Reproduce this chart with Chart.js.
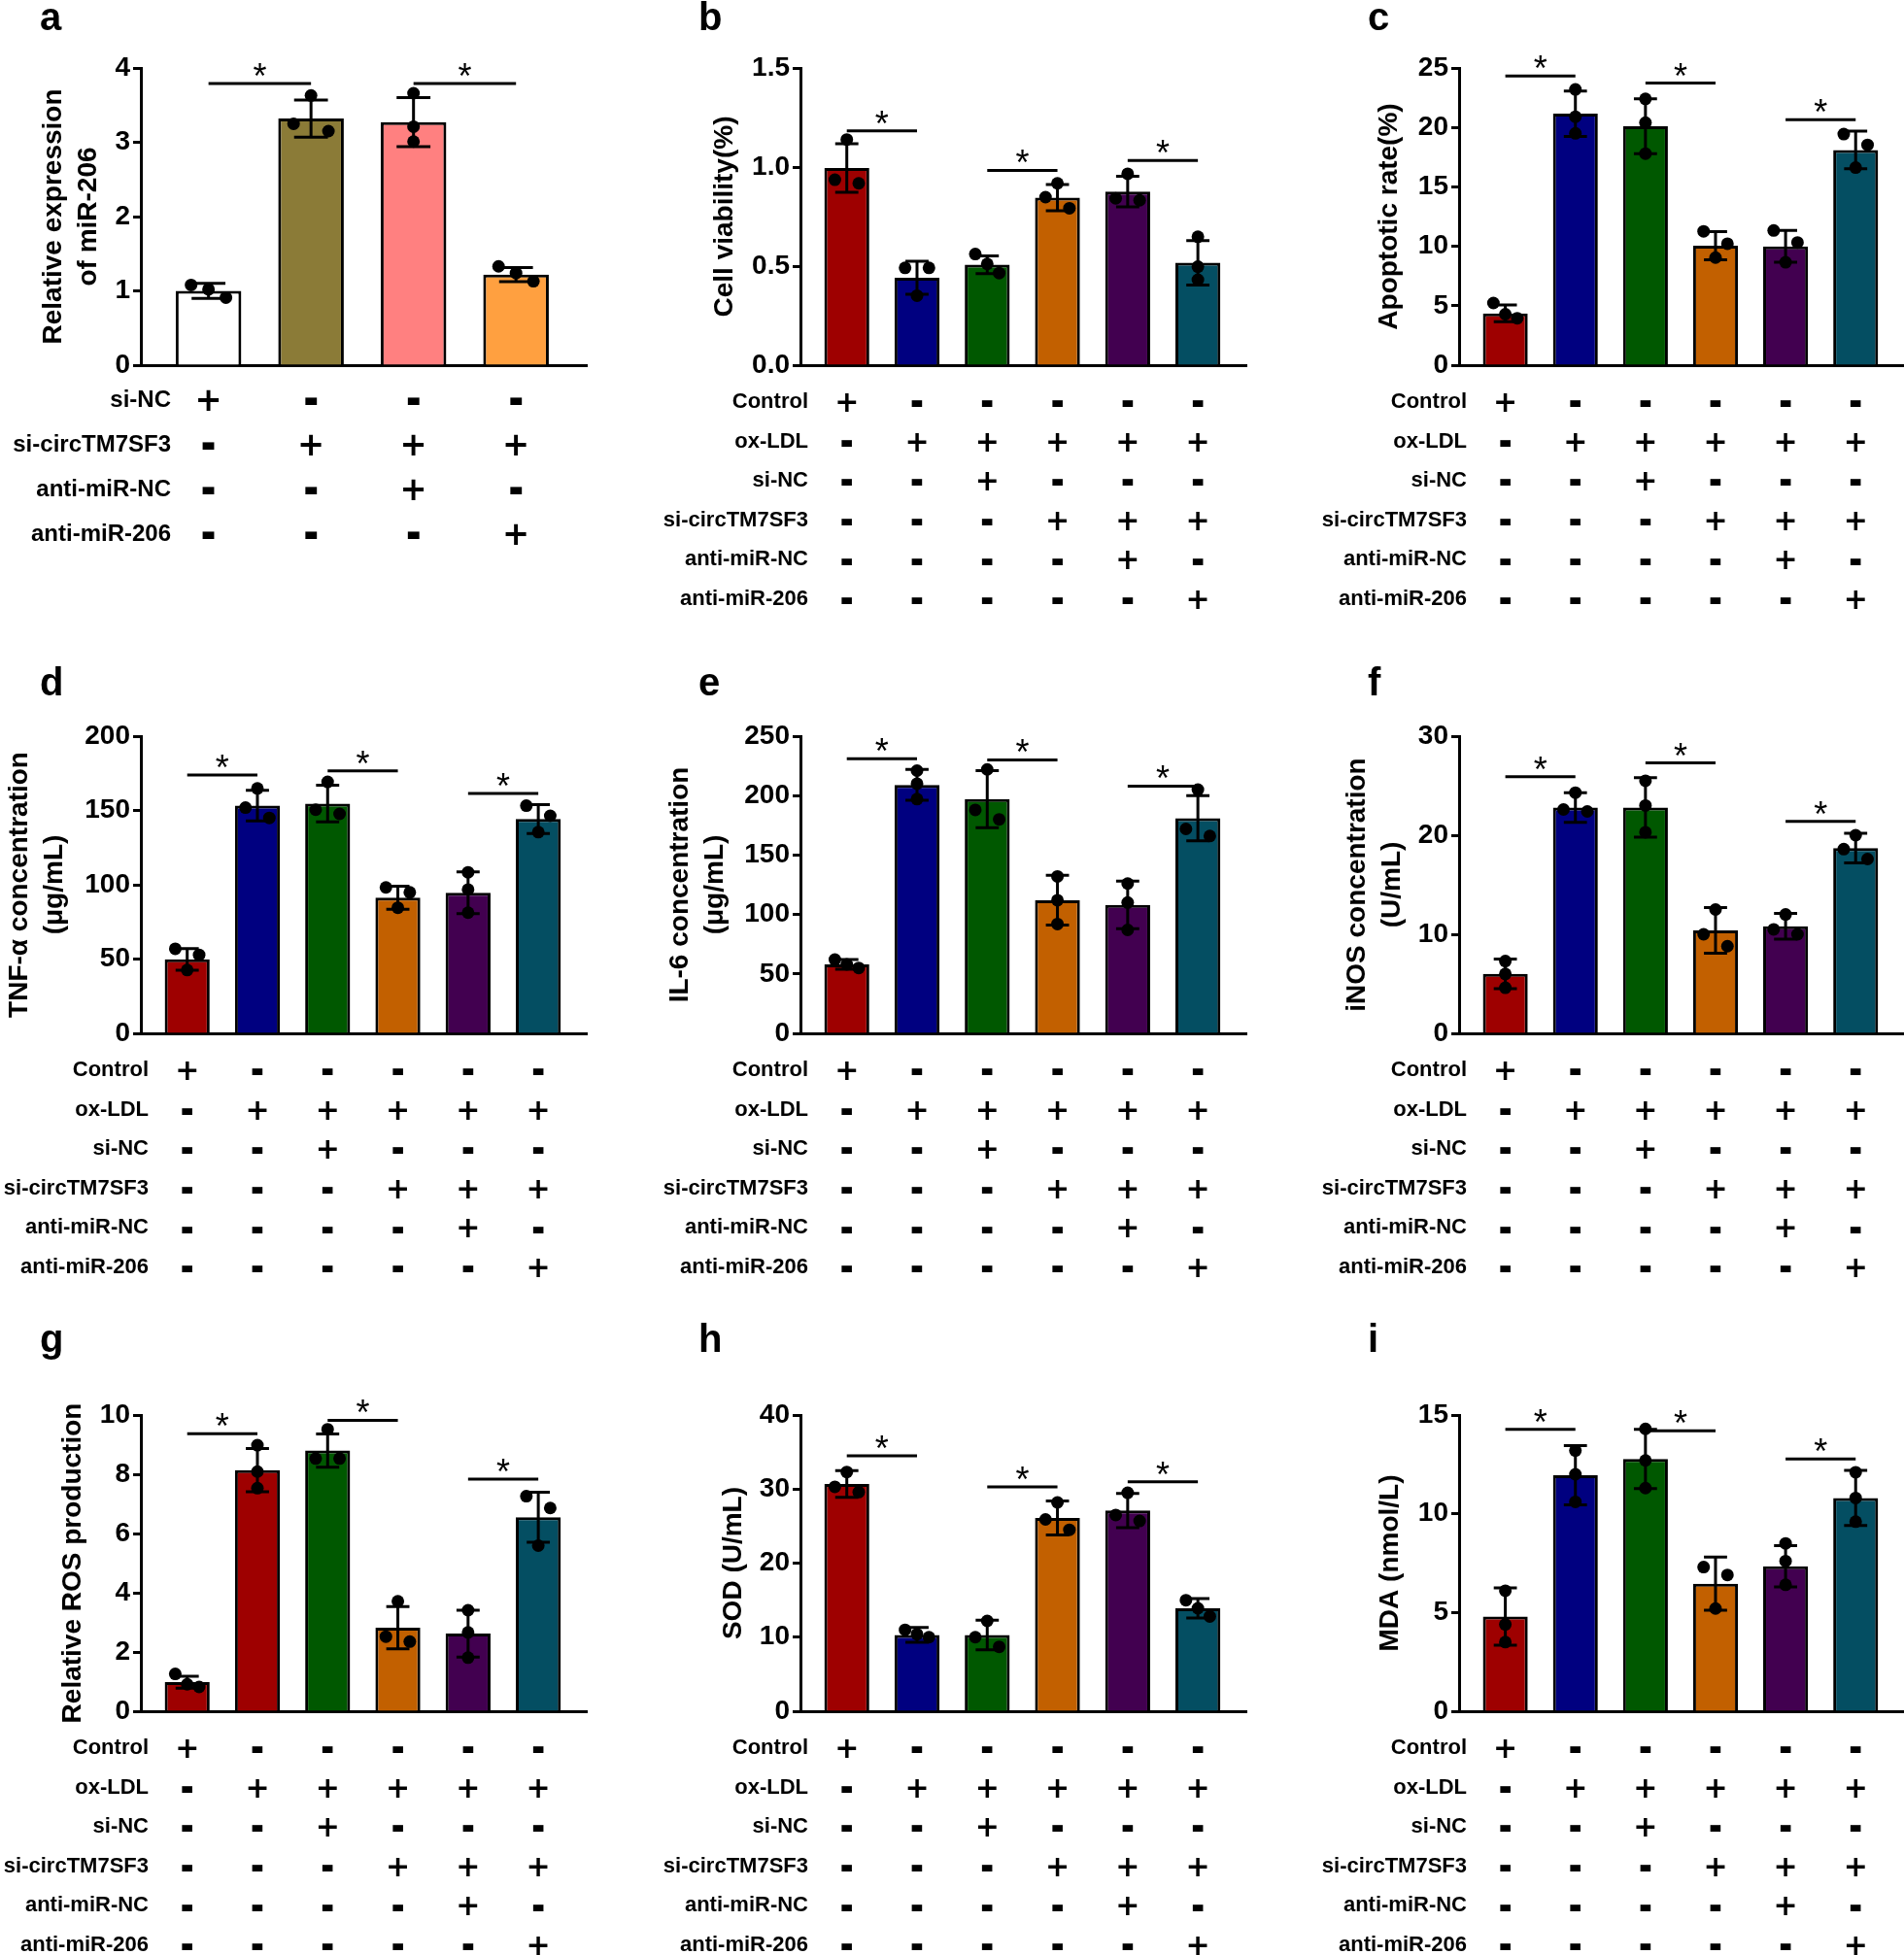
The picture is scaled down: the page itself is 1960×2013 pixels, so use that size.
<!DOCTYPE html>
<html>
<head>
<meta charset="utf-8">
<script src="https://cdn.jsdelivr.net/npm/chart.js@4.4.0/dist/chart.umd.min.js"></script>
<style>
  html, body { margin: 0; padding: 0; background: #fff; }
  #fig { position: relative; width: 1960px; height: 2013px; background: #fff; overflow: hidden; }
  #fig canvas { position: absolute; }
</style>
</head>
<body>
<div id="fig"></div>
<script>
// ---------- data ----------
const groups4 = ['si-NC', 'si-circTM7SF3', 'anti-miR-NC', 'anti-miR-206'];
const table4 = ['+---', '-+++', '--+-', '---+'];
const groups6 = ['Control', 'ox-LDL', 'si-NC', 'si-circTM7SF3', 'anti-miR-NC', 'anti-miR-206'];
const table6 = ['+-----', '-+++++', '--+---', '---+++', '----+-', '-----+'];

const colorsA = ['#ffffff', '#8b7b37', '#ff8080', '#ffa040'];
const colors6 = ['#9e0000', '#000080', '#005800', '#c26000', '#420050', '#044e62'];
const colorsG = ['#9e0000', '#9e0000', '#005800', '#c26000', '#420050', '#044e62'];

// a - relative miR-206
const miR206Mean = [1.0, 3.32, 3.27, 1.22];
const miR206SD = [0.10, 0.25, 0.33, 0.095];
const miR206Dots = [[1.08, 1.02, 0.91], [3.25, 3.63, 3.15], [3.21, 3.66, 3.01], [1.33, 1.24, 1.13]];
const miR206Sig = [[0, 1, 3.79], [2, 3, 3.79]];

// b - cell viability
const viabMean = [0.995, 0.441, 0.507, 0.846, 0.876, 0.517];
const viabSD = [0.123, 0.083, 0.045, 0.066, 0.077, 0.112];
const viabDots = [[0.936, 1.139, 0.918], [0.491, 0.351, 0.491], [0.511, 0.561, 0.465], [0.848, 0.918, 0.792], [0.842, 0.966, 0.832], [0.497, 0.648, 0.431]];
const viabSig = [[0, 1, 1.183], [2, 3, 0.983], [4, 5, 1.033]];

// c - apoptotic rate
const apoMean = [4.36, 21.15, 20.1, 10.05, 9.99, 18.1];
const apoSD = [0.7, 1.91, 2.3, 1.18, 1.34, 1.58];
const apoDots = [[5.23, 4.29, 3.95], [23.2, 20.9, 19.5], [22.4, 20.4, 17.8], [10.22, 11.26, 9.05], [11.33, 10.32, 8.65], [19.44, 18.53, 16.62]];
const apoSig = [[0, 1, 24.33], [2, 3, 23.73], [4, 5, 20.64]];

// d - TNF-a
const tnfMean = [49.8, 153.2, 154.6, 91.3, 94.6, 144.2];
const tnfSD = [7.3, 10.3, 12.35, 7.8, 14, 9.65];
const tnfDots = [[52.8, 56.9, 42.6], [151.9, 164.8, 145], [150.5, 169.2, 147.7], [94.9, 98.2, 84.5], [108.4, 96.8, 81.2], [146.4, 153.2, 135.4]];
const tnfSig = [[0, 1, 173.9], [2, 3, 176.6], [4, 5, 161.5]];

// e - IL-6
const il6Mean = [58, 209, 197, 112, 108, 181];
const il6SD = [4, 13, 24, 21, 20, 19];
const il6Dots = [[62, 58, 55], [221, 210, 197], [222, 188, 180], [132, 112, 92], [126, 110, 87], [205, 172, 166]];
const il6Sig = [[0, 1, 231], [2, 3, 230], [4, 5, 208]];

// f - iNOS
const inosMean = [6.0, 22.8, 22.8, 10.4, 10.8, 18.7];
const inosSD = [1.5, 1.5, 3, 2.3, 1.3, 1.5];
const inosDots = [[7.3, 6.0, 4.6], [24.3, 22.6, 22.4], [25.5, 23.0, 20.3], [12.5, 10.0, 8.8], [12.0, 10.5, 10.0], [20.0, 18.6, 17.6]];
const inosSig = [[0, 1, 25.9], [2, 3, 27.3], [4, 5, 21.4]];

// g - ROS
const rosMean = [0.98, 8.14, 8.8, 2.82, 2.62, 6.55];
const rosSD = [0.2, 0.73, 0.56, 0.715, 0.79, 0.845];
const rosDots = [[1.26, 0.91, 0.82], [8.09, 8.98, 7.53], [8.53, 9.52, 8.53], [2.52, 3.71, 2.35], [3.41, 2.66, 1.81], [7.26, 6.86, 5.59]];
const rosSig = [[0, 1, 9.37], [2, 3, 9.82], [4, 5, 7.84]];

// h - SOD
const sodMean = [30.7, 10.3, 10.3, 26.1, 27.1, 13.9];
const sodSD = [1.8, 1.0, 2.0, 2.3, 2.3, 1.3];
const sodDots = [[32.3, 30.3, 29.6], [11, 10.4, 10], [12.2, 10, 8.7], [28.2, 25.9, 24.5], [29.5, 26.5, 25.7], [15, 13.9, 12.8]];
const sodSig = [[0, 1, 34.5], [2, 3, 30.3], [4, 5, 31]];

// i - MDA
const mdaMean = [4.8, 11.95, 12.77, 6.46, 7.34, 10.8];
const mdaSD = [1.45, 1.5, 1.5, 1.35, 1.05, 1.4];
const mdaDots = [[6.1, 4.4, 3.5], [13.2, 12.0, 10.6], [14.3, 12.7, 11.3], [7.3, 6.9, 5.2], [8.5, 7.6, 6.4], [12.1, 10.8, 9.6]];
const mdaSig = [[0, 1, 14.28], [2, 3, 14.2], [4, 5, 12.77]];

// ---------- layout ----------
const FONT = "'Liberation Sans', Arial, Helvetica, sans-serif";
const SIGN_FONT = "'DejaVu Sans', 'Liberation Sans', sans-serif";
const CAP = 0.165;     // half width of error bar caps, in category units
const JIT = 0.17;      // horizontal spread of overlapping dots
const DOT_R = 6.5;
const DOT_GAP = 13;

const COLS = [
  { left: 0, width: 655, plotLeft: 145, plotRight: 604, letterX: 41 },
  { left: 655, width: 645, plotLeft: 824, plotRight: 1283, letterX: 719 },
  { left: 1300, width: 660, plotLeft: 1502, plotRight: 1960, letterX: 1408 }
];
const ROWS = [
  { top: 0, height: 680, plotTop: 70, plotBottom: 376, letterY: 31 },
  { top: 680, height: 680, plotTop: 758, plotBottom: 1064, letterY: 716 },
  { top: 1360, height: 653, plotTop: 1457, plotBottom: 1762, letterY: 1392 }
];
const ROW6 = { start: 38, gap: 40.6 };

const panels = [
  { letter: 'a', col: 0, row: 0, means: miR206Mean, sd: miR206SD, dots: miR206Dots, sig: miR206Sig, colors: colorsA,
    yMax: 4, yStep: 1, dec: 0, title: ['Relative expression', 'of miR-206'], titleX: 55,
    groups: groups4, table: table4, labelRight: 176, rowStart: 36, rowGap: 46, tableFont: 24, signScale: 1.12 },
  { letter: 'b', col: 1, row: 0, means: viabMean, sd: viabSD, dots: viabDots, sig: viabSig, colors: colors6,
    yMax: 1.5, yStep: 0.5, dec: 1, title: 'Cell viability(%)', titleX: 746 },
  { letter: 'c', col: 2, row: 0, means: apoMean, sd: apoSD, dots: apoDots, sig: apoSig, colors: colors6,
    yMax: 25, yStep: 5, dec: 0, title: 'Apoptotic rate(%)', titleX: 1430 },
  { letter: 'd', col: 0, row: 1, means: tnfMean, sd: tnfSD, dots: tnfDots, sig: tnfSig, colors: colors6,
    yMax: 200, yStep: 50, dec: 0, title: ['TNF-α concentration', '(μg/mL)'], titleX: 20 },
  { letter: 'e', col: 1, row: 1, means: il6Mean, sd: il6SD, dots: il6Dots, sig: il6Sig, colors: colors6,
    yMax: 250, yStep: 50, dec: 0, title: ['IL-6 concentration', '(μg/mL)'], titleX: 700 },
  { letter: 'f', col: 2, row: 1, means: inosMean, sd: inosSD, dots: inosDots, sig: inosSig, colors: colors6,
    yMax: 30, yStep: 10, dec: 0, title: ['iNOS concentration', '(U/mL)'], titleX: 1397 },
  { letter: 'g', col: 0, row: 2, means: rosMean, sd: rosSD, dots: rosDots, sig: rosSig, colors: colorsG,
    yMax: 10, yStep: 2, dec: 0, title: 'Relative ROS production', titleX: 75 },
  { letter: 'h', col: 1, row: 2, means: sodMean, sd: sodSD, dots: sodDots, sig: sodSig, colors: colors6,
    yMax: 40, yStep: 10, dec: 0, title: 'SOD (U/mL)', titleX: 755 },
  { letter: 'i', col: 2, row: 2, means: mdaMean, sd: mdaSD, dots: mdaDots, sig: mdaSig, colors: colors6,
    yMax: 15, yStep: 5, dec: 0, title: 'MDA (nmol/L)', titleX: 1431 }
];

// spread dots that would overlap vertically: higher ones go left
function spread(px) {
  const idx = px.map((_, i) => i).sort((a, b) => px[a] - px[b]);
  const out = new Array(px.length).fill(0);
  let group = [idx[0]];
  const flush = () => {
    const n = group.length;
    group.forEach((k, j) => { out[k] = n === 1 ? 0 : -1 + 2 * j / (n - 1); });
  };
  for (let j = 1; j < idx.length; j++) {
    if (px[idx[j]] - px[idx[j - 1]] < DOT_GAP) group.push(idx[j]);
    else { flush(); group = [idx[j]]; }
  }
  flush();
  return out;
}

function drawSign(ctx, ch, cx, cy, k) {
  ctx.save();
  ctx.font = `bold 30px ${SIGN_FONT}`;
  ctx.textAlign = 'center';
  ctx.textBaseline = 'alphabetic';
  const m = ctx.measureText(ch);
  const mid = (m.actualBoundingBoxAscent - m.actualBoundingBoxDescent) / 2;
  ctx.translate(cx, cy);
  ctx.scale(k, k);
  if (ch === '-') ctx.scale(1.15, 1.6);
  ctx.fillText(ch, 0, mid);
  ctx.restore();
}

function extrasFor(p, col, row) {
  return {
    id: 'extras_' + p.letter,
    afterDatasetsDraw(chart) {
      const { ctx, scales: { x, y } } = chart;
      ctx.save();
      ctx.strokeStyle = '#000';
      ctx.fillStyle = '#000';
      ctx.lineWidth = 3;
      // error bars (mean +/- SD)
      p.means.forEach((m, i) => {
        const cx = x.getPixelForValue(i);
        const hw = x.getPixelForValue(i + CAP) - cx;
        const yt = y.getPixelForValue(m + p.sd[i]);
        const yb = y.getPixelForValue(m - p.sd[i]);
        ctx.beginPath();
        ctx.moveTo(cx, yt); ctx.lineTo(cx, yb);
        ctx.moveTo(cx - hw, yt); ctx.lineTo(cx + hw, yt);
        ctx.moveTo(cx - hw, yb); ctx.lineTo(cx + hw, yb);
        ctx.stroke();
      });
      // replicate dots
      p.dots.forEach((vals, i) => {
        const offs = spread(vals.map(v => y.getPixelForValue(v)));
        vals.forEach((v, k) => {
          ctx.beginPath();
          ctx.arc(x.getPixelForValue(i + offs[k] * JIT), y.getPixelForValue(v), DOT_R, 0, Math.PI * 2);
          ctx.fill();
        });
      });
      // significance brackets
      ctx.font = `36px ${FONT}`;
      ctx.textAlign = 'center';
      ctx.textBaseline = 'alphabetic';
      p.sig.forEach(([a, b, h]) => {
        const x1 = x.getPixelForValue(a), x2 = x.getPixelForValue(b), yy = y.getPixelForValue(h);
        ctx.beginPath();
        ctx.moveTo(x1, yy); ctx.lineTo(x2, yy);
        ctx.stroke();
        ctx.fillText('*', (x1 + x2) / 2, yy + 5);
      });
      ctx.restore();
    },
    afterDraw(chart) {
      const { ctx, scales: { x } } = chart;
      const groups = p.groups || groups6;
      const table = p.table || table6;
      const labelRight = (p.labelRight || col.plotLeft + 8) - col.left;
      const start = p.rowStart || ROW6.start;
      const gap = p.rowGap || ROW6.gap;
      ctx.save();
      ctx.fillStyle = '#000';
      groups.forEach((g, r) => {
        const yy = row.plotBottom - row.top + start + r * gap;
        ctx.font = `bold ${p.tableFont || 22}px ${FONT}`;
        ctx.textAlign = 'right';
        ctx.textBaseline = 'middle';
        ctx.fillText(g, labelRight, yy);
        for (let i = 0; i < table[r].length; i++) drawSign(ctx, table[r][i], x.getPixelForValue(i), yy, p.signScale || 1);
      });
      ctx.font = `bold 40px ${FONT}`;
      ctx.textAlign = 'left';
      ctx.textBaseline = 'alphabetic';
      ctx.fillText(p.letter, col.letterX - col.left, row.letterY - row.top);
      ctx.restore();
    }
  };
}

function buildPanel(p) {
  const col = COLS[p.col], row = ROWS[p.row];
  const n = p.means.length;
  const canvas = document.createElement('canvas');
  canvas.width = col.width;
  canvas.height = row.height;
  canvas.style.left = col.left + 'px';
  canvas.style.top = row.top + 'px';
  canvas.style.width = col.width + 'px';
  canvas.style.height = row.height + 'px';
  document.getElementById('fig').appendChild(canvas);

  const titleSize = 28, titleLH = 1.3;
  new Chart(canvas, {
    type: 'bar',
    data: {
      datasets: [{
        data: p.means.map((v, i) => ({ x: i, y: v })),
        backgroundColor: p.colors,
        borderColor: '#000',
        borderWidth: 3,
        categoryPercentage: 1,
        barPercentage: 0.64
      }]
    },
    options: {
      responsive: false,
      animation: false,
      devicePixelRatio: 1,
      events: [],
      layout: {
        padding: {
          left: 0,
          top: row.plotTop - row.top,
          right: col.left + col.width - col.plotRight,
          bottom: row.top + row.height - row.plotBottom
        }
      },
      plugins: { legend: { display: false }, tooltip: { enabled: false } },
      scales: {
        x: {
          type: 'linear',
          offset: false,
          min: -0.66,
          max: n - 0.31,
          afterBuildTicks: s => { s.ticks = p.means.map((_, i) => ({ value: i })); },
          afterFit: s => { s.height = 0; },
          ticks: { display: false },
          grid: { display: false, offset: false },
          border: { display: true, color: '#000', width: 3 }
        },
        y: {
          min: 0,
          max: p.yMax,
          afterFit: s => { s.width = col.plotLeft - col.left; },
          ticks: {
            stepSize: p.yStep,
            color: '#000',
            padding: 3,
            font: { family: FONT, size: 28, weight: 'bold' },
            callback: v => Number(v).toFixed(p.dec)
          },
          grid: { display: true, drawOnChartArea: false, drawTicks: true, tickLength: 8, tickWidth: 3, tickColor: '#000' },
          border: { display: true, color: '#000', width: 3 },
          title: {
            display: true,
            text: p.title,
            color: '#000',
            font: { family: FONT, size: titleSize, weight: 'bold', lineHeight: titleLH },
            padding: { top: p.titleX - col.left - titleSize * titleLH / 2, bottom: 0 }
          }
        }
      }
    },
    plugins: [extrasFor(p, col, row)]
  });
}

panels.forEach(buildPanel);
</script>
</body>
</html>
